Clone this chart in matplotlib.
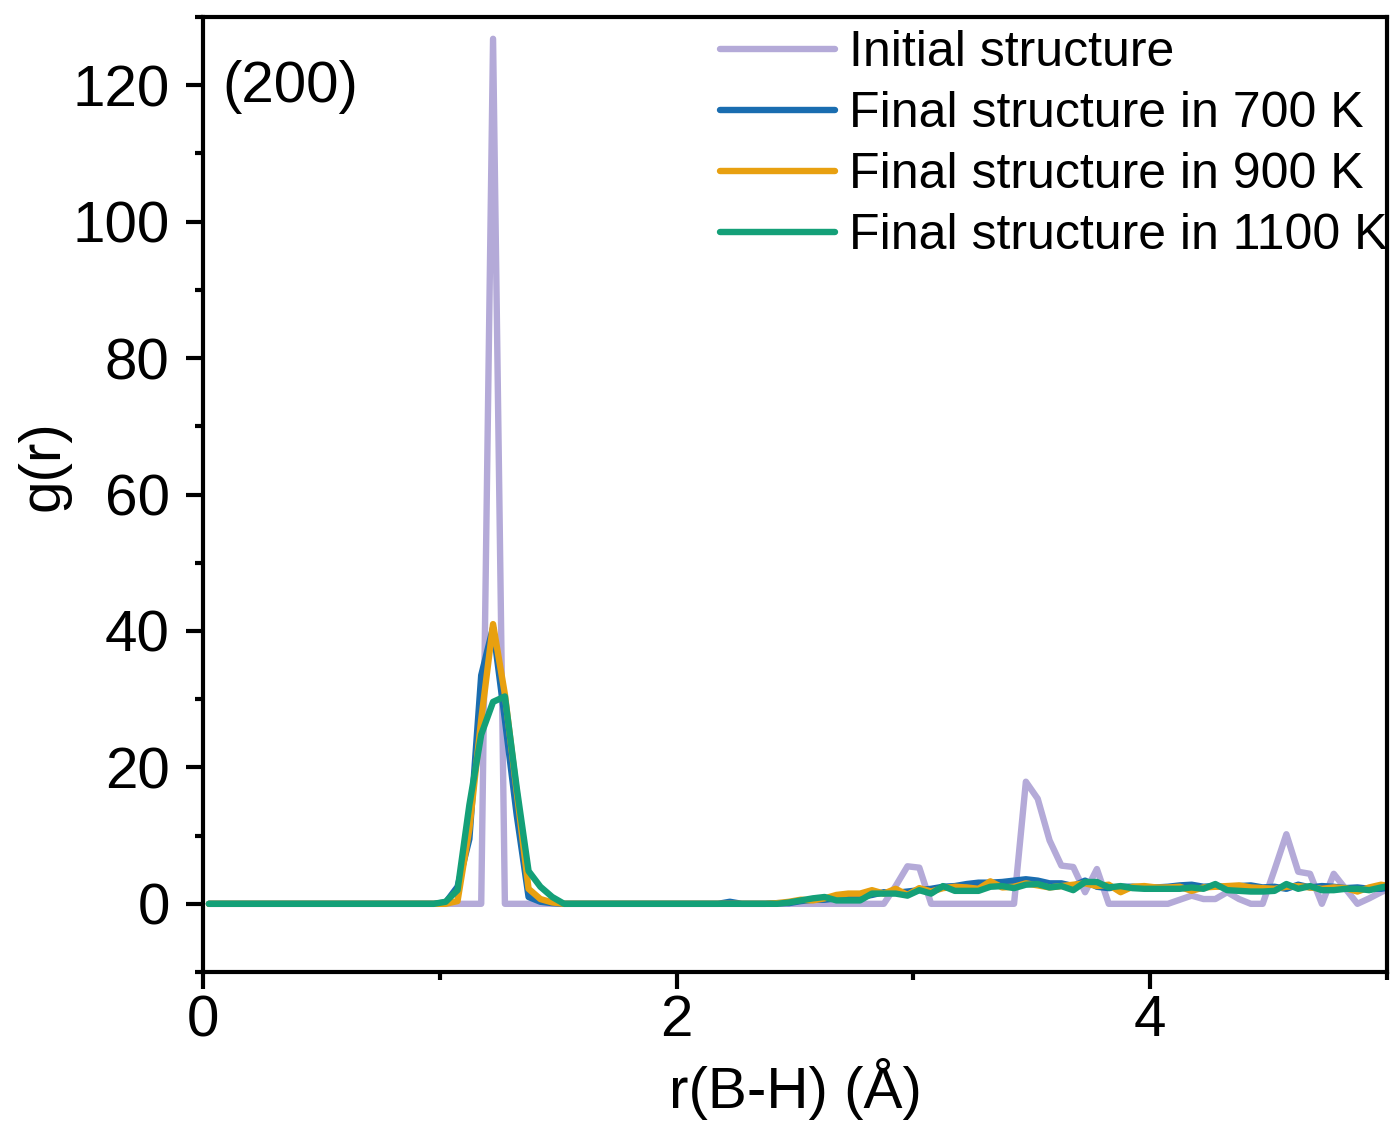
import numpy as np
import matplotlib.pyplot as plt
from matplotlib.ticker import MultipleLocator

plt.rcParams['font.family'] = ['Liberation Sans', 'DejaVu Sans']

# bin centres of the g(r) histogram (0.05 A bins)
r = np.round(np.arange(0.025, 5.05, 0.05), 3)

g_initial = ([0.0] * 23 + [0.0, 126.8, 0.0] + [0.0] * 32
             + [2.6, 5.5, 5.3, 0.0] + [0.0] * 7
             + [17.9, 15.4, 9.3, 5.6, 5.4, 1.7, 5.1, 0.0] + [0.0] * 5
             + [0.6, 1.2, 0.7, 0.7, 1.7, 0.7, 0.0, 0.0, 5.0, 10.2,
                4.7, 4.4, 0.0, 4.4, 2.2, 0.0, 0.8, 1.7, 2.5])

g_700 = ([0.0] * 20
         + [0.2, 2.5, 9.5, 33.5, 40.5, 27.0, 13.0, 1.0, 0.3, 0.1, 0.0]
         + [0.0] * 13 + [0.3, 0.0, 0.0, 0.0, 0.1]
         + [0.1, 0.4, 0.6, 0.6, 0.8, 0.9, 1.0, 1.3, 1.7, 1.6,
            1.8, 2.0, 2.2, 2.5, 2.6, 2.9, 3.1, 3.1, 3.2, 3.4,
            3.6, 3.4, 3.0, 3.0, 2.6, 3.4, 2.5, 2.3, 2.5, 2.5,
            2.4, 2.4, 2.5, 2.7, 2.8, 2.5, 2.6, 2.4, 2.6, 2.7,
            2.4, 2.5, 2.2, 2.8, 2.4, 2.6, 2.5, 2.3, 2.4, 2.2,
            2.2, 2.5])

g_900 = ([0.0] * 21
         + [0.4, 11.0, 27.0, 41.0, 30.7, 16.4, 2.2, 0.7, 0.2, 0.0]
         + [0.0] * 17
         + [0.1, 0.3, 0.6, 0.5, 0.8, 1.3, 1.5, 1.5, 2.0, 1.5,
            2.2, 1.3, 2.3, 1.8, 2.3, 2.5, 2.4, 2.2, 3.3, 2.4,
            2.5, 3.0, 2.7, 2.4, 2.6, 2.8, 3.0, 2.6, 2.8, 1.7,
            2.5, 2.6, 2.4, 2.4, 2.5, 1.9, 2.4, 2.5, 2.6, 2.7,
            2.4, 2.3, 2.2, 2.5, 2.6, 2.4, 2.2, 2.4, 2.3, 1.8,
            2.4, 2.8, 2.5])

g_1100 = ([0.0] * 20
          + [0.3, 2.0, 14.5, 24.8, 29.6, 30.4, 17.0, 4.8, 2.5, 1.0, 0.0]
          + [0.0] * 17
          + [0.0, 0.2, 0.5, 0.8, 1.0, 0.5, 0.5, 0.5, 1.5, 1.5,
             1.5, 1.2, 2.0, 1.5, 2.6, 1.9, 1.9, 1.9, 2.5, 2.6,
             2.3, 2.8, 2.9, 2.4, 2.6, 2.0, 3.2, 3.2, 2.4, 2.6,
             2.3, 2.2, 2.2, 2.2, 2.2, 2.4, 2.2, 2.9, 2.0, 1.9,
             1.8, 1.8, 1.9, 2.9, 2.2, 2.6, 2.0, 2.0, 2.2, 2.2,
             2.0, 2.4, 2.7])

labels = ["Initial structure", "Final structure in 700 K",
          "Final structure in 900 K", "Final structure in 1100 K"]
colors = ["#b4aad8", "#1a6db0", "#e8a010", "#14a078"]

fig = plt.figure(figsize=(13.93, 11.24), dpi=100)
ax = fig.add_axes([0.1457, 0.1352, 0.8500, 0.8497])

for y, lab, c in zip([g_initial, g_700, g_900, g_1100], labels, colors):
    ax.plot(r, y, color=c, lw=4.6, label=lab,
            solid_joinstyle='round', solid_capstyle='round')

ax.set_xlim(0, 5)
ax.set_ylim(-10, 130)
ax.xaxis.set_major_locator(MultipleLocator(2))
ax.xaxis.set_minor_locator(MultipleLocator(1))
ax.yaxis.set_major_locator(MultipleLocator(20))
ax.yaxis.set_minor_locator(MultipleLocator(10))

for s in ax.spines.values():
    s.set_linewidth(3)
ax.tick_params(which='major', direction='out', length=12, width=3,
               labelsize=42, pad=4)
ax.tick_params(which='minor', direction='out', length=5.5, width=3)
ax.tick_params(axis='y', which='major', pad=12)

ax.set_xlabel("r(B-H) (Å)", fontsize=42, labelpad=7)
ax.set_ylabel("g(r)", fontsize=42, labelpad=2)
ax.yaxis.set_label_coords(-0.112, 0.53)

ax.text(0.016, 0.927, "(200)", transform=ax.transAxes, fontsize=42,
        va='center', ha='left')

ax.legend(loc='upper left', bbox_to_anchor=(0.437, 0.986), frameon=False,
          fontsize=36, borderpad=0, borderaxespad=0, handlelength=2.3,
          handletextpad=0.28, labelspacing=0.3)

fig.savefig("out.png", dpi=100)
